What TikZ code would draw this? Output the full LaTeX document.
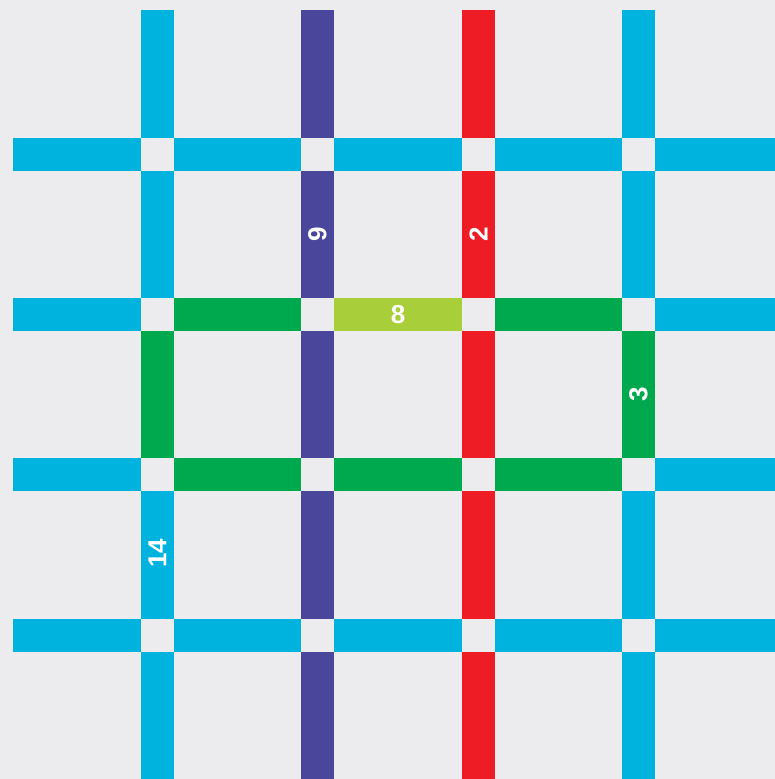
\documentclass[tikz,border=0pt]{standalone}
\usepackage{fontspec}
\setsansfont{Liberation Sans}
\definecolor{bggray}{HTML}{ECECEE}
\definecolor{lineblue}{HTML}{00B2DE}
\definecolor{linepurple}{HTML}{4A469C}
\definecolor{linered}{HTML}{EE1C25}
\definecolor{linegreen}{HTML}{00A84E}
\definecolor{linelime}{HTML}{A8CE3A}

\begin{document}
\begin{tikzpicture}[x=1pt, y=-1pt,
  num/.style={text=white, inner sep=0pt, font=\sffamily\bfseries\fontsize{26}{26}\selectfont},
  vnum/.style={num, rotate=90}]
\fill[bggray] (0,0) rectangle (775,779);
\useasboundingbox (0,0) rectangle (775,779);
% vertical lines, five pieces each
\foreach \x/\ca/\cb/\cc/\cd/\ce in {
  141/lineblue/lineblue/linegreen/lineblue/lineblue,
  301/linepurple/linepurple/linepurple/linepurple/linepurple,
  462/linered/linered/linered/linered/linered,
  622/lineblue/lineblue/linegreen/lineblue/lineblue}{
  \foreach \ya/\yb/\c in {10/138/\ca, 171/298/\cb, 331/458/\cc, 491/619/\cd, 652/779/\ce}
    \fill[\c] (\x,\ya) rectangle (\x+33,\yb);
}
% horizontal lines
\foreach \y/\ca/\cb/\cc/\cd/\ce in {
  138/lineblue/lineblue/lineblue/lineblue/lineblue,
  298/lineblue/linegreen/linelime/linegreen/lineblue,
  458/lineblue/linegreen/linegreen/linegreen/lineblue,
  619/lineblue/lineblue/lineblue/lineblue/lineblue}{
  \foreach \xa/\xb/\c in {13/141/\ca, 174/301/\cb, 334/462/\cc, 495/622/\cd, 655/775/\ce}
    \fill[\c] (\xa,\y) rectangle (\xb,\y+33);
}
% numbers
\node[vnum] (nine) at (317.5,234) {9};
\node[vnum] (two) at (478.5,234) {2};
\node[num] (eight) at (398,314.5) {8};
\node[vnum] (three) at (638.5,394) {3};
\node[vnum] (fourteen) at (157.5,553) {14};
\end{tikzpicture}
\end{document}
